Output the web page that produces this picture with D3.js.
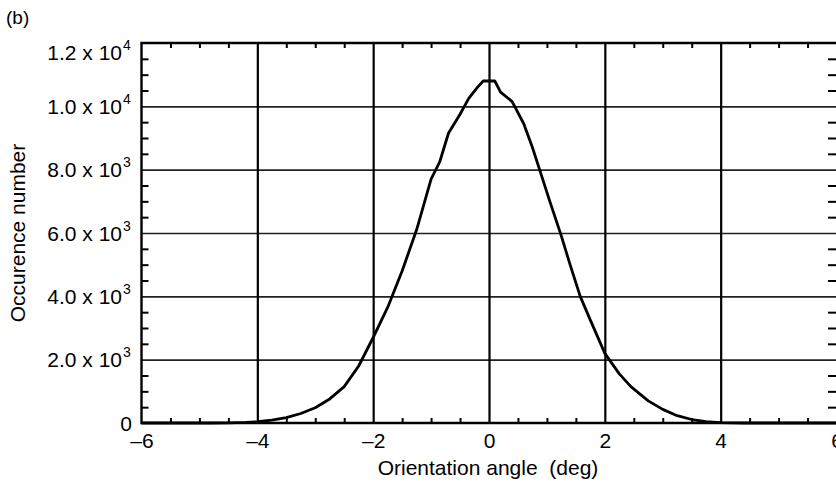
<!DOCTYPE html>
<html>
<head>
<meta charset="utf-8">
<script src="https://cdn.jsdelivr.net/npm/d3@7"></script>
<style>
  body { margin: 0; background: #fff; }
  svg { display: block; font-family: "Liberation Sans", Arial, sans-serif; }
</style>
</head>
<body>
<div id="chart"></div>
<script>
// Distribution data
const angles = [-6, -5, -4.8, -4.5, -4.2, -4.0, -3.75, -3.5, -3.25, -3.0, -2.75, -2.5, -2.25, -2.0,
  -1.75, -1.5, -1.25, -1.0, -0.85, -0.7, -0.5, -0.35, -0.2, -0.1, 0.1, 0.2, 0.4, 0.6, 0.75, 0.9,
  1.05, 1.25, 1.4, 1.575, 1.75, 2.0, 2.25, 2.45, 2.75, 3.0, 3.25, 3.5, 3.75, 4.0, 4.4, 6];
const counts = [0, 0, 0, 5, 20, 40, 90, 170, 300, 480, 760, 1150, 1800, 2700,
  3650, 4800, 6100, 7700, 8250, 9150, 9750, 10250, 10600, 10800, 10800, 10450, 10150, 9450, 8700, 7850,
  7000, 5900, 5000, 4000, 3250, 2200, 1550, 1150, 700, 430, 230, 110, 40, 15, 0, 0];

// Axis ticks
const xMajor = [-6, -4, -2, 0, 2, 4, 6];
const xLabels = ["\u20136", "\u20134", "\u20132", "0", "2", "4", "6"];
const xGrid = [-4, -2, 0, 2, 4];
const xMinor = [-5.5, -5, -4.5, -3.5, -3, -2.5, -1.5, -1, -0.5, 0.5, 1, 1.5, 2.5, 3, 3.5, 4.5, 5, 5.5];
const yMajor = [0, 2000, 4000, 6000, 8000, 10000, 12000];
const yMantissa = ["0", "2.0 x 10", "4.0 x 10", "6.0 x 10", "8.0 x 10", "1.0 x 10", "1.2 x 10"];
const yExponent = ["", "3", "3", "3", "3", "4", "4"];
const yGrid = [2000, 4000, 6000, 8000, 10000];
const yMinor = [500, 1000, 1500, 2500, 3000, 3500, 4500, 5000, 5500, 6500, 7000, 7500,
  8500, 9000, 9500, 10500, 11000, 11500];

const W = 836, H = 488;
const m = { left: 141.5, right: 836.5, top: 43, bottom: 423 };

const svg = d3.select("#chart").append("svg")
  .attr("width", W)
  .attr("height", H);

const x = d3.scaleLinear().domain([-6, 6]).range([m.left, m.right]);
const y = d3.scaleLinear().domain([0, 12000]).range([m.bottom, m.top]);

// horizontal grid
svg.append("g")
  .attr("transform", `translate(${m.left},0)`)
  .call(d3.axisLeft(y).tickValues(yGrid).tickSize(-(m.right - m.left)).tickFormat(""))
  .call(g => g.select(".domain").remove())
  .selectAll("line").attr("stroke", "#222").attr("stroke-width", 1.6);

// vertical grid
svg.append("g")
  .attr("transform", `translate(0,${m.bottom})`)
  .call(d3.axisBottom(x).tickValues(xGrid).tickSize(-(m.bottom - m.top)).tickFormat(""))
  .call(g => g.select(".domain").remove())
  .selectAll("line").attr("stroke", "#000").attr("stroke-width", 2.2);

// minor ticks, pointing inward on all four sides
svg.append("g")
  .attr("transform", `translate(0,${m.bottom})`)
  .call(d3.axisBottom(x).tickValues(xMinor).tickSize(-5).tickFormat(""))
  .call(g => g.select(".domain").remove())
  .selectAll("line").attr("stroke-width", 2);
svg.append("g")
  .attr("transform", `translate(0,${m.top})`)
  .call(d3.axisTop(x).tickValues(xMinor).tickSize(-5).tickFormat(""))
  .call(g => g.select(".domain").remove())
  .selectAll("line").attr("stroke-width", 2);
svg.append("g")
  .attr("transform", `translate(${m.left},0)`)
  .call(d3.axisLeft(y).tickValues(yMinor).tickSize(-7).tickFormat(""))
  .call(g => g.select(".domain").remove())
  .selectAll("line").attr("stroke-width", 2);
svg.append("g")
  .attr("transform", `translate(${W},0)`)
  .call(d3.axisRight(y).tickValues(yMinor).tickSize(-8).tickFormat(""))
  .call(g => g.select(".domain").remove())
  .selectAll("line").attr("stroke-width", 2);

// frame
svg.append("path")
  .attr("d", `M${m.right},${m.top}H${m.left}V${m.bottom}H${m.right}`)
  .attr("fill", "none")
  .attr("stroke", "#000")
  .attr("stroke-width", 2.4);

// the distribution curve
const line = d3.line()
  .x((d, i) => x(angles[i]))
  .y(d => y(d));

svg.append("path")
  .datum(counts)
  .attr("d", line)
  .attr("fill", "none")
  .attr("stroke", "#000")
  .attr("stroke-width", 2.8)
  .attr("stroke-linejoin", "round");

// x tick labels
svg.append("g")
  .attr("transform", `translate(0,${m.bottom})`)
  .call(d3.axisBottom(x).tickValues(xMajor).tickSize(0).tickPadding(10)
    .tickFormat((d, i) => xLabels[i]))
  .call(g => g.select(".domain").remove())
  .selectAll("text")
  .attr("font-family", "Liberation Sans, Arial, sans-serif")
  .attr("font-size", 21)
  .attr("fill", "#000");

// y tick labels with superscript exponents
const yl = svg.append("g");
yMajor.forEach((v, i) => {
  let ty = y(v) + 7.5;
  if (v === 12000) ty += 9;
  yl.append("text")
    .attr("x", yExponent[i] ? 122 : 132)
    .attr("y", ty)
    .attr("text-anchor", "end")
    .attr("font-size", 21)
    .text(yMantissa[i]);
  if (yExponent[i]) {
    yl.append("text")
      .attr("x", 123)
      .attr("y", ty - 10)
      .attr("font-size", 14)
      .text(yExponent[i]);
  }
});

// axis titles
svg.append("text")
  .attr("x", (m.left + m.right) / 2 - 1)
  .attr("y", 475)
  .attr("text-anchor", "middle")
  .attr("font-size", 21)
  .text("Orientation angle\u00A0\u00A0(deg)");

svg.append("text")
  .attr("transform", `translate(25,${(m.top + m.bottom) / 2}) rotate(-90)`)
  .attr("text-anchor", "middle")
  .attr("font-size", 21)
  .text("Occurence number");

svg.append("text")
  .attr("x", 6)
  .attr("y", 24)
  .attr("font-size", 19)
  .text("(b)");
</script>
</body>
</html>
